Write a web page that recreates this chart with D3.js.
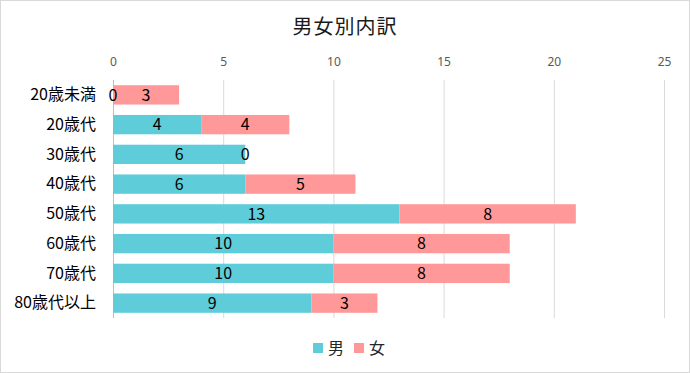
<!DOCTYPE html>
<html>
<head>
<meta charset="utf-8">
<script src="https://cdn.jsdelivr.net/npm/d3@7"></script>
<style>
  body { margin: 0; background: #fff; }
  text { font-family: "Noto Sans CJK JP", "Noto Sans", sans-serif; }
</style>
</head>
<body>
<div id="chart"></div>
<script>
const categories = ["20歳未満", "20歳代", "30歳代", "40歳代", "50歳代", "60歳代", "70歳代", "80歳代以上"];
const male = [0, 4, 6, 6, 13, 10, 10, 9];
const female = [3, 4, 0, 5, 8, 8, 8, 3];
const seriesNames = ["男", "女"];
const tickValues = [0, 5, 10, 15, 20, 25];

const colors = ["#5ECDD9", "#FF9999"];
const width = 690, height = 373;
const margin = ({top: 80, right: 26, bottom: 55, left: 113});

const svg = d3.select("#chart").append("svg")
  .attr("width", width)
  .attr("height", height);

svg.append("rect")
  .attr("x", 0.5).attr("y", 0.5)
  .attr("width", width - 1).attr("height", height - 1)
  .attr("fill", "#fff")
  .attr("stroke", "#d9d9d9");

const xscale = d3.scaleLinear()
  .domain([0, 25])
  .range([margin.left, width - margin.right]);

const yscale = d3.scaleBand()
  .domain(categories)
  .range([margin.top, height - margin.bottom])
  .paddingInner(0.35)
  .paddingOuter(0.175);

// title
svg.append("text")
  .attr("x", 345).attr("y", 34)
  .attr("text-anchor", "middle")
  .attr("font-size", 20)
  .attr("letter-spacing", 1)
  .attr("fill", "#1a1a1a")
  .text("男女別内訳");

// gridlines + top tick labels
const xAxis = g => g
  .attr("transform", `translate(0, ${margin.top})`)
  .call(d3.axisTop(xscale).tickValues(tickValues).tickSize(0).tickPadding(14))
  .call(g => g.select(".domain").remove())
  .call(g => g.selectAll(".tick text")
    .attr("font-size", 12)
    .attr("fill", "#595959")
    .style("font-family", "'Noto Sans', sans-serif"))
  .call(g => g.selectAll(".tick line").clone()
    .attr("y2", height - margin.bottom - margin.top)
    .attr("stroke", (d) => d === 0 ? "#bfbfbf" : "#d9d9d9"));

svg.append("g").call(xAxis);

// category labels
const yAxis = g => g
  .attr("transform", `translate(${margin.left}, 0)`)
  .call(d3.axisLeft(yscale).tickSize(0).tickPadding(17))
  .call(g => g.select(".domain").remove())
  .call(g => g.selectAll(".tick text")
    .attr("font-size", 16)
    .attr("fill", "#000"));

svg.append("g").call(yAxis);

const rows = categories.map((c, i) => ({cat: c, values: [male[i], female[i]]}));
const segs = [];
rows.forEach(r => {
  let x0 = 0;
  r.values.forEach((v, k) => {
    segs.push({cat: r.cat, k: k, x0: x0, x1: x0 + v, v: v});
    x0 += v;
  });
});

const bars = svg.append("g");
bars.selectAll("rect")
  .data(segs.filter(d => d.v > 0))
  .join("rect")
  .attr("x", d => xscale(d.x0))
  .attr("y", d => yscale(d.cat))
  .attr("width", d => xscale(d.x1) - xscale(d.x0))
  .attr("height", yscale.bandwidth())
  .attr("fill", d => colors[d.k]);

bars.selectAll("text")
  .data(segs)
  .join("text")
  .attr("x", d => (xscale(d.x0) + xscale(d.x1)) / 2)
  .attr("y", d => yscale(d.cat) + yscale.bandwidth() / 2)
  .attr("dy", "0.36em")
  .attr("text-anchor", "middle")
  .attr("font-size", 16)
  .attr("fill", "#000")
  .text(d => d.v);

// legend
const legend = svg.append("g")
  .attr("transform", "translate(313, 348)");
const items = legend.selectAll("g")
  .data(seriesNames)
  .join("g")
  .attr("transform", (d, i) => `translate(${i * 41}, 0)`);
items.append("rect")
  .attr("x", 0).attr("y", -5)
  .attr("width", 10).attr("height", 10)
  .attr("fill", (d, i) => colors[i]);
items.append("text")
  .attr("x", 15).attr("y", 0)
  .attr("dy", "0.36em")
  .attr("font-size", 16)
  .attr("fill", "#262626")
  .text(d => d);
</script>
</body>
</html>
